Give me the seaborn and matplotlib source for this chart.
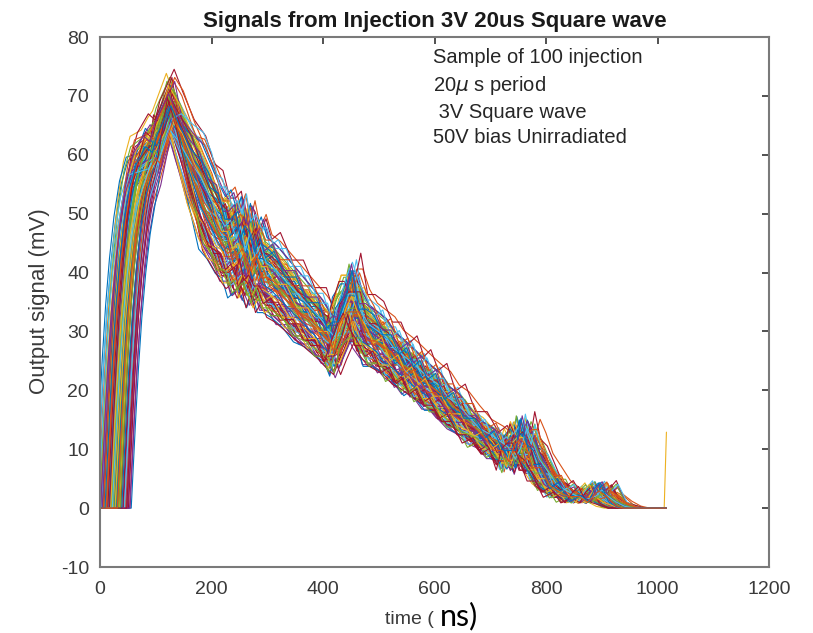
import numpy as np
import pandas as pd
import matplotlib
matplotlib.use("Agg")
import matplotlib.pyplot as plt
import seaborn as sns

# ---------------- data ----------------
# shared rising-edge template (ns after the trace's start, mV)
rise_dt = [0, 4, 8, 13, 19, 26, 34, 44, 56]
rise_mv = [0, 8, 16, 25, 34, 42, 49, 55, 59]

# main body key points (ns, mV) - four recorded shape variants
base_t = [80, 92, 100, 125, 140, 160, 180, 195, 210, 222, 232, 242, 250, 258,
          266, 275, 285, 295, 310, 330, 350, 370, 390, 405, 415, 425, 440, 450,
          462, 475, 490, 505, 520, 535, 548, 560, 572, 585, 600, 615, 632, 650,
          670, 690, 705, 720, 733, 743, 753, 763, 775, 790, 805, 820, 840, 860,
          875, 885, 895, 910, 925, 940]
shape_a = [61, 63, 62, 69, 65, 59, 54, 51, 48, 46, 47, 44, 46, 42, 45, 41, 43, 40,
           39, 37, 35, 33, 31, 29, 28, 31, 35, 35, 32, 30, 29, 28, 26, 25, 24, 23,
           22, 21, 20, 18, 17, 15, 13, 12, 11, 10, 8, 10, 13, 11, 8, 6, 4, 3, 2,
           1.5, 2, 3, 2, 1, 0.3, 0]
shape_b = [60, 62, 63, 69, 66, 60, 55, 52, 47, 47, 44, 45, 43, 46, 42, 43, 41, 41,
           38, 38, 34, 34, 30, 30, 27, 30, 34, 36, 33, 31, 28, 29, 25, 26, 23, 24,
           21, 22, 19, 19, 16, 16, 12, 13, 10, 11, 7, 11, 12, 12, 9, 5, 5, 2, 3,
           1, 3, 4, 2, 1, 0.5, 0]
shape_c = [62, 61, 64, 69, 64, 58, 54, 50, 49, 45, 45, 46, 42, 44, 43, 40, 42, 39,
           40, 36, 36, 32, 32, 28, 29, 29, 33, 37, 31, 31, 30, 27, 27, 24, 25, 22,
           23, 20, 21, 17, 18, 14, 14, 11, 12, 9, 9, 9, 14, 10, 9, 6, 3, 4, 1,
           2, 1, 3, 4, 1, 0.2, 0]
shape_d = [61, 62, 61, 69, 65, 60, 53, 51, 48, 47, 43, 44, 45, 43, 41, 44, 40, 40,
           39, 37, 34, 33, 31, 30, 27, 32, 34, 34, 34, 29, 29, 28, 27, 25, 23, 24,
           22, 20, 20, 18, 16, 15, 14, 12, 10, 10, 8, 11, 12, 11, 7, 7, 4, 3, 2,
           2, 1, 2, 3, 2, 0.5, 0]

# per-injection parameters (100 injections)
rise_start = [-6, 12, 22, 2, 37, 17, 31, 8, 47, -2,
              26, 6, 41, 20, 13, 34, 1, 53, 24, 10,
              29, -9, 44, 15, 4, 32, 21, 50, 9, 36,
              0, 18, 27, 40, 11, 56, 3, 23, 33, 14,
              43, 7, 30, -4, 17, 46, 28, 12, 35, 21,
              8, 39, 2, 25, 15, 51, 10, 31, 22, 42,
              -1, 18, 34, 5, 45, 24, 13, 29, -7, 37,
              16, 32, 9, 49, 20, 3, 41, 26, 11, 35,
              1, 23, 44, 14, 30, 6, 19, 54, 33, -3,
              17, 39, 12, 27, 4, 36, 22, 48, 9, 31]
amp_peak = [1.00, 0.96, 1.03, 0.93, 1.05, 0.98, 0.95, 1.01, 0.92, 1.07,
            0.97, 1.02, 0.94, 0.99, 1.04, 0.96, 1.00, 0.93, 1.06, 0.98,
            0.95, 1.01, 0.97, 1.03, 0.92, 0.99, 1.02, 0.96, 1.00, 1.05,
            0.94, 0.98, 1.01, 0.97, 1.08, 0.95, 0.99, 1.03, 0.93, 1.00,
            0.96, 1.04, 0.98, 0.95, 1.02, 0.97, 1.00, 0.94, 1.06, 0.99,
            1.01, 0.96, 0.93, 1.03, 0.98, 1.00, 0.95, 1.02, 0.97, 0.99,
            1.04, 0.92, 1.00, 0.97, 1.01, 0.95, 1.05, 0.98, 0.96, 1.02,
            0.99, 0.94, 1.03, 0.97, 1.00, 0.96, 1.01, 0.93, 0.98, 1.04,
            0.97, 1.02, 0.95, 1.00, 0.99, 1.06, 0.94, 0.98, 1.01, 0.96,
            1.03, 0.97, 1.00, 0.95, 1.02, 0.98, 0.93, 1.01, 0.99, 0.96]
amp_tail = [1.00, 0.88, 1.09, 0.84, 1.13, 0.95, 1.05, 0.91, 1.16, 1.02,
            0.93, 1.08, 0.86, 1.00, 1.11, 0.90, 1.04, 0.82, 1.12, 0.97,
            1.06, 0.89, 1.01, 1.10, 0.85, 0.98, 1.14, 0.92, 1.03, 1.09,
            0.87, 0.99, 1.12, 0.94, 1.17, 0.83, 1.02, 1.07, 0.90, 0.96,
            1.10, 0.86, 1.04, 0.93, 1.13, 0.88, 1.00, 1.08, 0.81, 1.05,
            0.95, 1.11, 0.89, 1.01, 1.06, 0.92, 1.15, 0.97, 0.85, 1.03,
            1.09, 0.90, 0.99, 1.12, 0.87, 1.04, 0.94, 1.10, 1.00, 0.84,
            1.07, 0.96, 1.13, 0.91, 1.02, 0.88, 1.10, 0.98, 1.05, 0.93,
            1.14, 0.86, 1.01, 1.08, 0.95, 1.11, 0.90, 1.03, 0.97, 1.16,
            0.89, 1.06, 0.94, 1.00, 1.12, 0.85, 1.04, 0.92, 1.09, 0.98]
stretch = [1.00, 0.98, 1.02, 0.97, 1.04, 0.99, 1.01, 0.98, 1.05, 1.00,
           1.02, 0.97, 1.03, 1.00, 0.99, 1.03, 0.96, 1.01, 0.99, 1.04,
           0.98, 1.01, 1.00, 1.02, 0.98, 1.04, 1.00, 0.97, 1.02, 0.99,
           1.03, 0.99, 1.01, 0.97, 1.03, 1.00, 1.01, 0.98, 1.05, 1.00,
           0.99, 1.02, 0.98, 1.02, 0.99, 1.04, 0.96, 1.01, 1.00, 1.03,
           0.98, 1.01, 1.04, 0.99, 1.00, 0.97, 1.02, 1.00, 1.03, 0.98,
           1.01, 0.99, 1.02, 0.97, 1.00, 1.03, 0.98, 1.01, 0.98, 1.04,
           1.00, 1.02, 0.97, 1.01, 1.03, 0.99, 0.98, 1.02, 1.00, 0.99,
           1.01, 0.98, 1.05, 1.00, 0.97, 1.02, 1.00, 0.98, 1.03, 0.99,
           0.98, 1.01, 1.04, 0.98, 1.01, 1.00, 1.02, 0.97, 1.00, 0.99]
peak_shift = [0, 4, -3, 6, -5, 2, 8, -2, 5, -6,
              3, -1, 7, -4, 1, 9, -3, 4, 0, -7,
              5, 2, -5, 6, -2, 3, 10, -4, 1, 7,
              -1, 4, -6, 2, 8, -3, 5, 0, -5, 3,
              6, -2, 1, 9, -4, 2, 7, -1, 4, -6,
              3, 0, -3, 5, 8, -2, 1, 6, -5, 2,
              4, -4, 7, 1, -2, 3, 9, -6, 0, 5,
              -1, 6, 2, -3, 8, 4, -5, 1, 3, -2,
              7, 0, -4, 5, 2, 9, -3, 4, -1, 6,
              1, -6, 3, 8, -2, 5, 0, -4, 2, 7]
record_end = [1012, 1016]      # ns, last samples of every record
spike_trace = 93               # record with the final spike
spike_mv = 12.9

x_ticks = [0, 200, 400, 600, 800, 1000, 1200]
y_ticks = [-10, 0, 10, 20, 30, 40, 50, 60, 70, 80]
annot_lines = ["Sample of 100 injection", r"20$\mu$ s period",
               " 3V Square wave", "50V bias Unirradiated"]

# ---------------- build long table ----------------
shapes = [np.array(s, dtype=float) for s in (shape_a, shape_b, shape_c, shape_d)]
bt0 = np.array(base_t, dtype=float)
w_tail = np.clip((bt0 - 125) / 55.0, 0, 1)
rows = []
for i in range(100):
    t0 = rise_start[i]
    bt = 125 + peak_shift[i] + (bt0 - 125) * stretch[i]
    bv = shapes[i % 4] * (amp_peak[i] * (1 - w_tail) + amp_tail[i] * w_tail)
    rt = t0 + np.array(rise_dt, dtype=float)
    keep = rt < bt[3] - 15
    rt_k = rt[keep]
    rv = np.array(rise_mv, dtype=float)[keep] * amp_peak[i]
    xs, ys = [], []
    if t0 > 0:
        xs.append(0.0); ys.append(0.0)
    xs += list(rt_k); ys += list(rv)
    mb = (bt > rt_k[-1] + 3) & (bt < 1008)
    xs += list(bt[mb]); ys += list(bv[mb])
    xs += record_end
    ys += [0.0, spike_mv if i == spike_trace else 0.0]
    name = f"inj{i:03d}"
    for x, y in zip(xs, ys):
        rows.append((name, x, y))
df = pd.DataFrame(rows, columns=["trace", "t", "v"])

matlab = [(0, 0.447, 0.741), (0.85, 0.325, 0.098), (0.929, 0.694, 0.125),
          (0.494, 0.184, 0.556), (0.466, 0.674, 0.188), (0.301, 0.745, 0.933),
          (0.635, 0.078, 0.184)]
order = [f"inj{i:03d}" for i in range(100)]
pal = {n: matlab[i % 7] for i, n in enumerate(order)}

# ---------------- draw ----------------
sns.set_style("white")
plt.rcParams["font.family"] = ["Liberation Sans", "DejaVu Sans"]
plt.rcParams["mathtext.fontset"] = "dejavusans"
plt.rcParams["axes.unicode_minus"] = False

fig = plt.figure(figsize=(8.13, 6.33), dpi=100)
ax = fig.add_axes([100 / 813, 1 - 567 / 633, 669 / 813, 530 / 633])

sns.lineplot(data=df, x="t", y="v", hue="trace", hue_order=order, palette=pal,
             estimator=None, sort=False, legend=False, lw=0.8, ax=ax)

ax.set_xlim(0, 1200)
ax.set_ylim(-10, 80)
ax.set_xticks(x_ticks)
ax.set_yticks(y_ticks)
ax.set_xlabel("")
ax.set_ylabel("")
for sp in ax.spines.values():
    sp.set_color("#7a7a7a")
    sp.set_linewidth(1.5)
ax.tick_params(axis="both", direction="in", length=5, width=1.2, color="#333333",
               labelsize=14, labelcolor="#3a3a3a", top=True, right=True)
ax.tick_params(axis="x", pad=10)
ax.tick_params(axis="y", pad=8)

fig.text(434.5 / 813, 1 - 27 / 633, "Signals from Injection 3V 20us Square wave",
         ha="center", va="baseline", fontsize=16, fontweight="bold", color="#1a1a1a")

ax.text(597, 78.2, "\n".join(annot_lines), ha="left", va="top", fontsize=14.5,
        color="#262626", linespacing=1.42)

fig.text(40 / 813, 1 - 301 / 633, "Output signal (mV)", rotation=90,
         ha="center", va="center", fontsize=16, color="#3a3a3a")

# x label: "time (" in axis font, "ns)" in a different font (as in the reference)
t1 = fig.text(385 / 813, 1 - 624 / 633, "time (", ha="left", va="baseline",
              fontsize=14, color="#3a3a3a")
fig.canvas.draw()
bb = t1.get_window_extent()
fig.text((bb.x1 + 6) / 813, 1 - 625 / 633, "ns)", ha="left", va="baseline",
         fontsize=22, color="black", family=["Lato", "DejaVu Sans"])

fig.savefig("out.png", dpi=100)
